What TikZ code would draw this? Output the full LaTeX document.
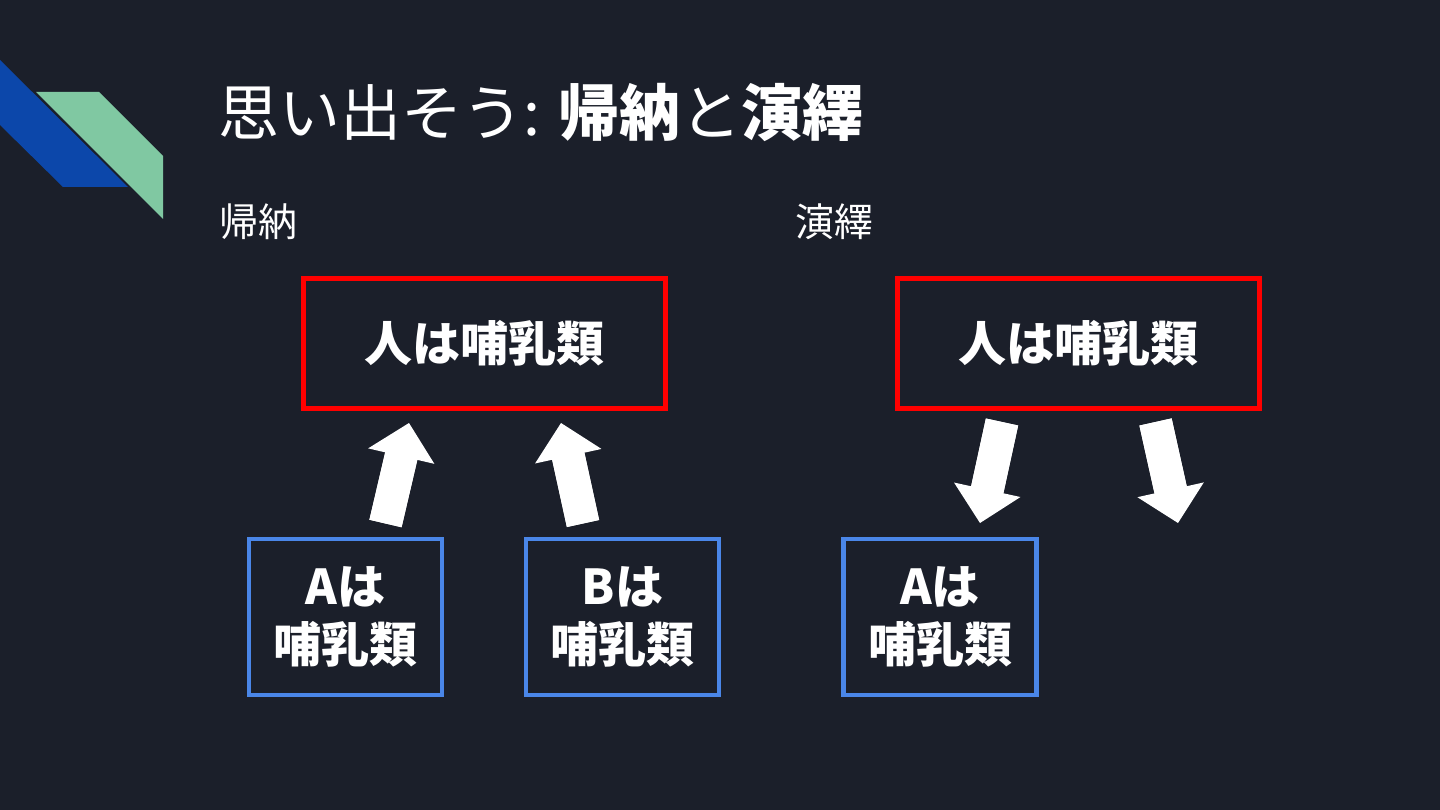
\documentclass[tikz,border=0pt]{standalone}
\usepackage{fontspec}
\setmainfont{Noto Sans CJK JP}
\usetikzlibrary{arrows.meta}
\definecolor{bg}{HTML}{1B1F2A}
\definecolor{decoblue}{HTML}{0C47AA}
\definecolor{decogreen}{HTML}{80C8A2}
\definecolor{boxred}{HTML}{FF0000}
\definecolor{boxblue}{HTML}{4A86E8}
\tikzset{
  redbox/.style={draw=boxred, line width=5pt, minimum width=362pt, minimum height=129pt, inner sep=0pt, text=white, font=\fontsize{48}{58}\selectfont\bfseries},
  bluebox/.style={draw=boxblue, line width=4.5pt, minimum width=193pt, minimum height=156pt, inner sep=0pt, align=center, text=white, font=\fontsize{48}{58}\selectfont\bfseries},
  bigarrow/.style={draw=white, line width=33pt, -{Triangle[length=34pt,width=68pt,line width=0pt]},
    preaction={draw=white, line width=33pt, -, shorten >=30pt}},
  label/.style={text=white, inner sep=0pt, anchor=west, font=\fontsize{39}{45}\selectfont},
}
\begin{document}
\begin{tikzpicture}[x=1pt,y=-1pt]
\fill[bg] (0,0) rectangle (1440,810);
\useasboundingbox (0,0) rectangle (1440,810);
% decoration
\fill[decoblue] (0,60) -- (128,187) -- (63,187) -- (0,125) -- cycle;
\fill[decogreen] (36,92) -- (99,92) -- (163,156) -- (163,219) -- cycle;
% title
\node[text=white, inner sep=0pt, anchor=west, font=\fontsize{61}{70}\selectfont] (title) at (218,113)
  {思い出そう: \textbf{帰納}と\textbf{演繹}};
\node[label] (lind) at (219,222) {帰納};
\node[label] (lded) at (795,222) {演繹};
% boxes
\node[redbox] (r1) at (484,343.5) {人は哺乳類};
\node[redbox] (r2) at (1078.5,343.5) {人は哺乳類};
\node[bluebox] (b1) at (345.5,617) {Aは\\哺乳類};
\node[bluebox] (b2) at (622.5,617) {Bは\\哺乳類};
\node[bluebox] (b3) at (940,617) {Aは\\哺乳類};
% arrow end points
\coordinate (a1s) at (385.5,523.5);
\coordinate (a1e) at (409,423);
\coordinate (a2s) at (583,523.5);
\coordinate (a2e) at (561,423);
\coordinate (a3s) at (1002,422);
\coordinate (a3e) at (980,523);
\coordinate (a4s) at (1155.5,422);
\coordinate (a4e) at (1178,523);
\draw[bigarrow] (a1s) -- (a1e);
\draw[bigarrow] (a2s) -- (a2e);
\draw[bigarrow] (a3s) -- (a3e);
\draw[bigarrow] (a4s) -- (a4e);
\end{tikzpicture}
\end{document}
